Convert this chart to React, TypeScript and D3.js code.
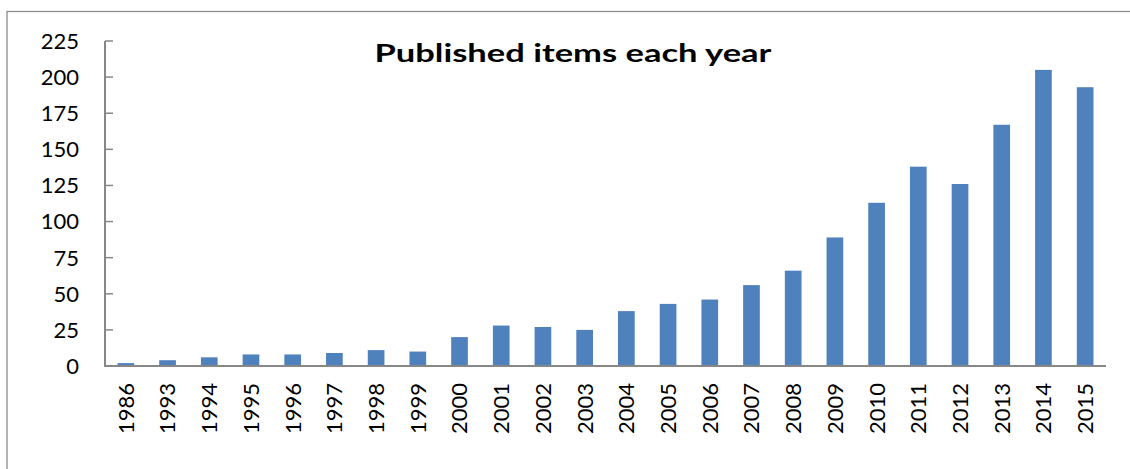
import React from "react";
import * as d3 from "d3";

const years = ["1986","1993","1994","1995","1996","1997","1998","1999","2000","2001","2002","2003","2004","2005","2006","2007","2008","2009","2010","2011","2012","2013","2014","2015"];
const counts = [2,4,6,8,8,9,11,10,20,28,27,25,38,43,46,56,66,89,113,138,126,167,205,193];
const yTicks = [0,25,50,75,100,125,150,175,200,225];
const title = "Published items each year";

export default function App() {
  const W = 1130, H = 469;
  const left = 105, right = 1106, top = 41, bottom = 366;
  const x = d3.scaleBand<string>().domain(years).range([left, right]).paddingInner(0.6).paddingOuter(0.3);
  const y = d3.scaleLinear().domain([0, 225]).range([bottom, top]);
  const font = "Lato, 'Open Sans', sans-serif";
  return (
    <svg width={W} height={H} style={{ position: "absolute", left: 0, top: 0, background: "#fff" }}>
      <rect x={7} y={11.5} width={W} height={H} fill="#fff" stroke="#8c8c8c" strokeWidth={1.3} />
      <text x={573} y={62} textAnchor="middle" fontFamily="Lato, sans-serif" fontWeight="bold" fontSize={25} textLength={397} lengthAdjust="spacingAndGlyphs" fill="#000">{title}</text>
      {years.map((yr, i) => (
        <rect key={yr} x={x(yr)} y={y(counts[i])} width={x.bandwidth()} height={bottom - y(counts[i])} fill="#4f81bd" />
      ))}
      <line x1={left} x2={left} y1={top} y2={bottom} stroke="#878787" strokeWidth={2} />
      {yTicks.map(t => (
        <g key={t}>
          <line x1={left} x2={left + 8} y1={y(t)} y2={y(t)} stroke="#878787" strokeWidth={1.5} />
          <text x={79} y={y(t)} dy="0.36em" textAnchor="end" fontFamily={font} fontSize={22} fill="#000">{t}</text>
        </g>
      ))}
      <line x1={left - 1} x2={right} y1={bottom} y2={bottom} stroke="#878787" strokeWidth={2} />
      {years.map(yr => {
        const cx = (x(yr) as number) + x.bandwidth() / 2;
        return (
          <text key={yr} transform={`translate(${cx},383) rotate(-90)`} textAnchor="end" dy="0.36em" fontFamily={font} fontSize={22} fill="#000">{yr}</text>
        );
      })}
    </svg>
  );
}
